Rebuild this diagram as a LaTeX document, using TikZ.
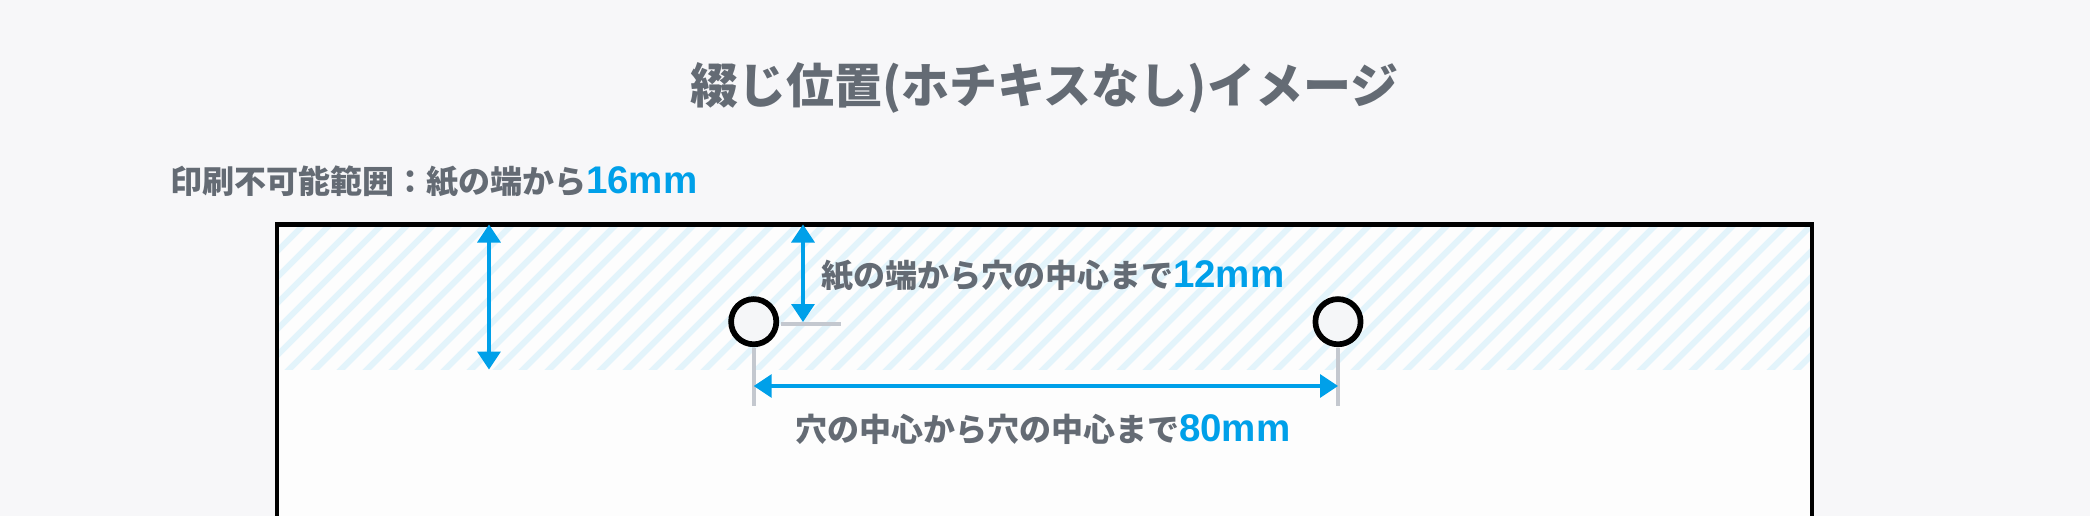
\documentclass[tikz,border=0pt]{standalone}
\usepackage{fontspec}
\usetikzlibrary{arrows.meta}
\newfontfamily\jpfont{Noto Sans CJK JP}
\newfontfamily\numfont{Liberation Sans}
\definecolor{bgcol}{HTML}{F7F7F9}
\definecolor{papercol}{HTML}{FDFDFD}
\definecolor{hatchcol}{HTML}{E3F4FB}
\definecolor{txtgray}{HTML}{646B74}
\definecolor{accent}{HTML}{00A0E9}
\definecolor{tickgray}{HTML}{C4C8CF}
\definecolor{holefill}{HTML}{F5F6F8}
\tikzset{
  frameline/.style={line width=4.5pt, draw=black},
  hatchline/.style={line width=6pt, draw=hatchcol},
  dimarrow/.style={line width=3.4pt, draw=accent, {Triangle[width=23pt,length=18pt]}-{Triangle[width=23pt,length=18pt]}},
  extline/.style={line width=3.6pt, draw=tickgray},
  hole/.style={circle, draw=black, line width=5.7pt, fill=holefill, minimum size=45.2pt, inner sep=0pt},
  lbl/.style={anchor=base west, inner sep=0pt, outer sep=0pt, text=txtgray, font=\jpfont\bfseries\fontsize{32}{38}\selectfont},
  ttl/.style={anchor=base, inner sep=0pt, outer sep=0pt, text=txtgray, font=\jpfont\bfseries\fontsize{48}{56}\selectfont}
}
\newcommand{\numtxt}[1]{\textcolor{accent}{\numfont\bfseries\fontsize{38.5}{40}\selectfont #1}}
\begin{document}
\begin{tikzpicture}[x=1pt,y=-1pt]
\useasboundingbox (0,0) rectangle (2090,516);
\fill[bgcol] (0,0) rectangle (2090,516);
% paper
\fill[papercol] (277,224.5) rectangle (1812,540);
\begin{scope}
  \clip (277,224.5) rectangle (1812,369.5);
  \foreach \k in {-7,...,61} {
    \draw[hatchline] ({309.5+26*\k},375) -- ++(160,-160);
  }
\end{scope}
\draw[frameline] (277,540) -- (277,224.5) -- (1812,224.5) -- (1812,540);

% title
\node[ttl] (title) at (1044,104) {綴じ位置(ホチキスなし)イメージ};
% labels
\node[lbl] (lab16) at (170,193) {印刷不可能範囲：紙の端から\numtxt{16mm}};
\node[lbl] (lab12) at (821,287.5) {紙の端から穴の中心まで\numtxt{12mm}};
\node[lbl] (lab80) at (795,441.5) {穴の中心から穴の中心まで\numtxt{80mm}};

% holes
\node[hole] (h1) at (753.7,321.7) {};
\node[hole] (h2) at (1338,321.7) {};

% coordinates
\coordinate (m16top) at (489,224.5);
\coordinate (m16bot) at (489,369.5);
\coordinate (m12top) at (803,224.5);
\coordinate (m12bot) at (803,322);
\coordinate (tickL) at (781,323.7);
\coordinate (tickR) at (841,323.7);
\coordinate (e1top) at (753.7,348);
\coordinate (e1bot) at (753.7,406);
\coordinate (e2top) at (1338,348);
\coordinate (e2bot) at (1338,406);
\coordinate (d80L) at (753.7,386);
\coordinate (d80R) at (1338,386);

% extension lines
\draw[extline] (tickL) -- (tickR);
\draw[extline] (e1top) -- (e1bot);
\draw[extline] (e2top) -- (e2bot);

% dimension arrows
\draw[dimarrow] (m16top) -- (m16bot);
\draw[dimarrow] (m12top) -- (m12bot);
\draw[dimarrow] (d80L) -- (d80R);
\end{tikzpicture}
\end{document}
